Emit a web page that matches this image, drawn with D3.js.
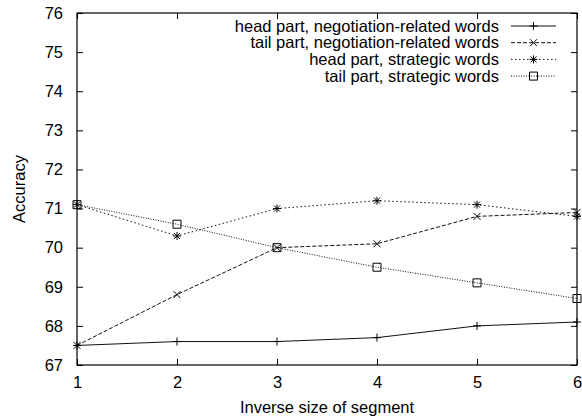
<!DOCTYPE html>
<html>
<head>
<meta charset="utf-8">
<script src="https://cdn.jsdelivr.net/npm/d3@7"></script>
<style>
  body { margin: 0; background: #fff; }
  text { font-family: "Liberation Sans", Arial, sans-serif; font-size: 16.5px; fill: #000; }
</style>
</head>
<body>
<svg></svg>
<script>
// data
let segments = [1, 2, 3, 4, 5, 6];
let headNeg = [67.5, 67.6, 67.6, 67.7, 68.0, 68.1];
let tailNeg = [67.5, 68.8, 70.0, 70.1, 70.8, 70.9];
let headStrat = [71.1, 70.3, 71.0, 71.2, 71.1, 70.8];
let tailStrat = [71.1, 70.6, 70.0, 69.5, 69.1, 68.7];
let seriesNames = [
  'head part, negotiation-related words',
  'tail part, negotiation-related words',
  'head part, strategic words',
  'tail part, strategic words'
];
let yTicks = [67, 68, 69, 70, 71, 72, 73, 74, 75, 76];
let xTicks = [1, 2, 3, 4, 5, 6];

let width = 582;
let height = 417;
let margin = { left: 77, right: 5, top: 13, bottom: 52 };

let svg = d3.select('svg').attr('width', width).attr('height', height);

let xScale = d3.scaleLinear().domain([1, 6]).range([margin.left, width - margin.right]);
let yScale = d3.scaleLinear().domain([67, 76]).range([height - margin.bottom, margin.top]);

// styles per series (gnuplot-like line types)
let styles = [
  { dash: null, marker: 'plus' },
  { dash: '4,2', marker: 'cross' },
  { dash: '1.5,2.5', marker: 'star' },
  { dash: '1,1.5', marker: 'square' }
];
let allSeries = [headNeg, tailNeg, headStrat, tailStrat];

// axes with inward ticks, mirrored
let tick = 6;
svg.append('g')
  .attr('transform', 'translate(0,' + (height - margin.bottom) + ')')
  .call(d3.axisBottom(xScale).tickValues(xTicks).tickFormat(d3.format('d')).tickSize(-tick).tickPadding(11))
  .call(g => g.select('.domain').remove());
svg.append('g')
  .attr('transform', 'translate(0,' + margin.top + ')')
  .call(d3.axisTop(xScale).tickValues(xTicks).tickFormat('').tickSize(-tick))
  .call(g => g.select('.domain').remove());
svg.append('g')
  .attr('transform', 'translate(' + margin.left + ',0)')
  .call(d3.axisLeft(yScale).tickValues(yTicks).tickFormat(d3.format('d')).tickSize(-tick).tickPadding(14))
  .call(g => g.select('.domain').remove());
svg.append('g')
  .attr('transform', 'translate(' + (width - margin.right) + ',0)')
  .call(d3.axisRight(yScale).tickValues(yTicks).tickFormat('').tickSize(-tick))
  .call(g => g.select('.domain').remove());

svg.selectAll('.tick text').attr('font-size', null).attr('font-family', null);
svg.selectAll('.tick line').attr('stroke', '#000');

// frame
svg.append('rect')
  .attr('x', margin.left).attr('y', margin.top)
  .attr('width', width - margin.left - margin.right)
  .attr('height', height - margin.top - margin.bottom)
  .attr('fill', 'none').attr('stroke', '#000').attr('stroke-width', 1.2);

// axis titles
svg.append('text')
  .attr('x', (margin.left + width - margin.right) / 2)
  .attr('y', 413)
  .attr('text-anchor', 'middle')
  .text('Inverse size of segment');
svg.append('text')
  .attr('transform', 'translate(25,' + ((margin.top + height - margin.bottom) / 2) + ') rotate(-90)')
  .attr('text-anchor', 'middle')
  .text('Accuracy');

let drawMarker = (g, type, x, y) => {
  let r = 4;
  let p = d3.path();
  if (type === 'plus' || type === 'star') {
    p.moveTo(x - r, y); p.lineTo(x + r, y);
    p.moveTo(x, y - r); p.lineTo(x, y + r);
  }
  if (type === 'cross' || type === 'star') {
    let c = type === 'star' ? 3 : 3.5;
    p.moveTo(x - c, y - c); p.lineTo(x + c, y + c);
    p.moveTo(x - c, y + c); p.lineTo(x + c, y - c);
  }
  if (type === 'square') {
    p.rect(x - 4, y - 4, 8, 8);
  }
  g.append('path').attr('d', p.toString())
    .attr('fill', 'none').attr('stroke', '#000').attr('stroke-width', 1);
};

let line = d3.line().x((d, i) => xScale(segments[i])).y(d => yScale(d));

let plot = svg.append('g');
allSeries.forEach((vals, k) => {
  plot.append('path')
    .datum(vals)
    .attr('d', line)
    .attr('fill', 'none')
    .attr('stroke', '#111')
    .attr('stroke-width', 1)
    .attr('stroke-dasharray', styles[k].dash);
  vals.forEach((v, i) => drawMarker(plot, styles[k].marker, xScale(segments[i]), yScale(v)));
});

// legend
let legendRowY = (i) => 26 + i * 16.7;
let legend = svg.append('g');
seriesNames.forEach((name, k) => {
  let y = legendRowY(k);
  legend.append('text')
    .attr('x', 499).attr('y', y).attr('dy', '0.35em')
    .attr('text-anchor', 'end')
    .text(name);
  legend.append('line')
    .attr('x1', 511).attr('x2', 556).attr('y1', y).attr('y2', y)
    .attr('stroke', '#111').attr('stroke-width', 1)
    .attr('stroke-dasharray', styles[k].dash);
  drawMarker(legend, styles[k].marker, 533.5, y);
});
</script>
</body>
</html>
